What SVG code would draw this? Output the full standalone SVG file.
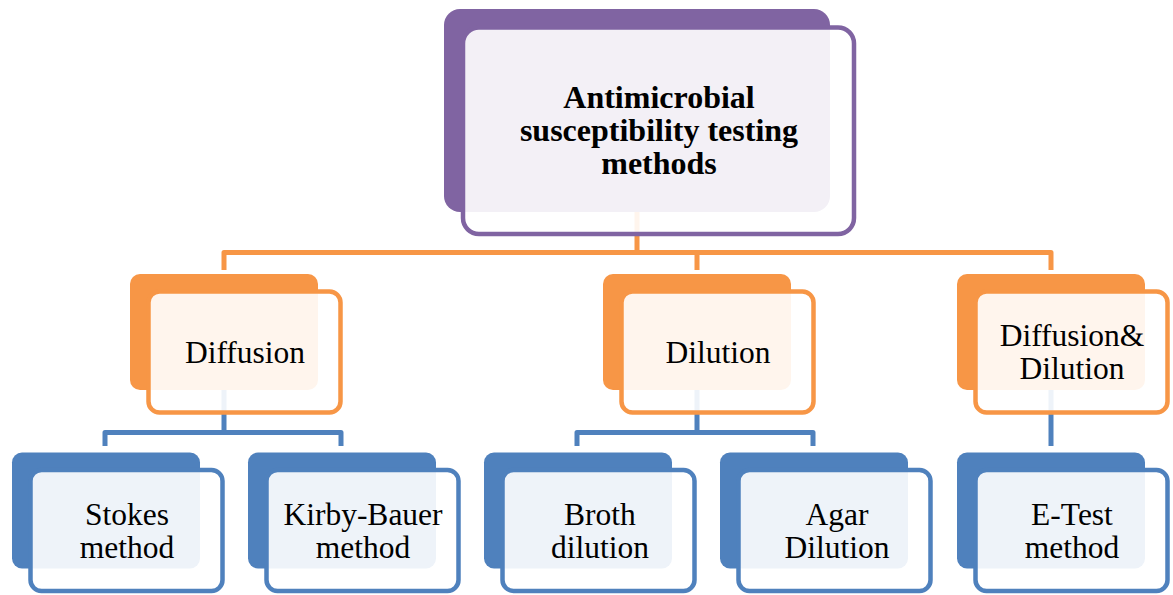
<svg xmlns="http://www.w3.org/2000/svg" width="1173" height="595" viewBox="0 0 1173 595">
<style>
.bg{fill:#ffffff}
.conn-o{fill:none;stroke:#F79646;stroke-width:5;stroke-linejoin:round}
.conn-b{fill:none;stroke:#4F81BD;stroke-width:5;stroke-linejoin:round}
.back-p{fill:#8064A2}
.back-o{fill:#F79646}
.back-b{fill:#4F81BD}
.front{fill:#ffffff;fill-opacity:0.9;stroke-width:4.5}
.fp{stroke:#8064A2}
.fo{stroke:#F79646}
.fb{stroke:#4F81BD}
text{font-family:'Liberation Serif','Times New Roman',Times,serif;font-size:31.5px;fill:#000;text-anchor:middle}
.tb{font-weight:bold;font-size:32px}
</style>
<rect class="bg" x="0" y="0" width="1173" height="595"/>
<g id="connectors">
<path class="conn-o" d="M637 212 V252.5 M224 270 V252.5 H1051 V270 M697 252.5 V270"/>
<path class="conn-b" d="M224 390 V432.5 M105 446 V432.5 H341 V446"/>
<path class="conn-b" d="M697 390 V432.5 M577 446 V432.5 H813 V446"/>
<path class="conn-b" d="M1051 390 V446"/>
</g>
<g id="root">
<rect class="back-p" x="444" y="9" width="386" height="203" rx="16"/>
<rect class="front fp" x="463" y="27.5" width="391" height="206.5" rx="16"/>
<text class="tb" x="659" y="108">Antimicrobial</text>
<text class="tb" x="659" y="141">susceptibility testing</text>
<text class="tb" x="659" y="174">methods</text>
</g>
<g id="diffusion">
<rect class="back-o" x="130" y="274" width="188" height="116" rx="10"/>
<rect class="front fo" x="148.5" y="291.5" width="192" height="121" rx="11"/>
<text x="245" y="363">Diffusion</text>
</g>
<g id="dilution">
<rect class="back-o" x="603" y="274" width="188" height="116" rx="10"/>
<rect class="front fo" x="621.5" y="291.5" width="192" height="121" rx="11"/>
<text x="718" y="363">Dilution</text>
</g>
<g id="diffusion-dilution">
<rect class="back-o" x="957" y="274" width="188" height="116" rx="10"/>
<rect class="front fo" x="975.5" y="291.5" width="192" height="121" rx="11"/>
<text x="1072" y="346">Diffusion&amp;</text>
<text x="1072" y="379">Dilution</text>
</g>
<g id="stokes">
<rect class="back-b" x="12" y="452.5" width="188" height="116" rx="10"/>
<rect class="front fb" x="30.5" y="470" width="192" height="121" rx="11"/>
<text x="127" y="525">Stokes</text>
<text x="127" y="558">method</text>
</g>
<g id="kirby-bauer">
<rect class="back-b" x="248" y="452.5" width="188" height="116" rx="10"/>
<rect class="front fb" x="266.5" y="470" width="192" height="121" rx="11"/>
<text x="363" y="525">Kirby-Bauer</text>
<text x="363" y="558">method</text>
</g>
<g id="broth">
<rect class="back-b" x="484" y="452.5" width="188" height="116" rx="10"/>
<rect class="front fb" x="502.5" y="470" width="192" height="121" rx="11"/>
<text x="600" y="525">Broth</text>
<text x="600" y="558">dilution</text>
</g>
<g id="agar">
<rect class="back-b" x="720" y="452.5" width="188" height="116" rx="10"/>
<rect class="front fb" x="738.5" y="470" width="192" height="121" rx="11"/>
<text x="837" y="525">Agar</text>
<text x="837" y="558">Dilution</text>
</g>
<g id="etest">
<rect class="back-b" x="957" y="452.5" width="188" height="116" rx="10"/>
<rect class="front fb" x="975.5" y="470" width="192" height="121" rx="11"/>
<text x="1072" y="525">E-Test</text>
<text x="1072" y="558">method</text>
</g>
</svg>
